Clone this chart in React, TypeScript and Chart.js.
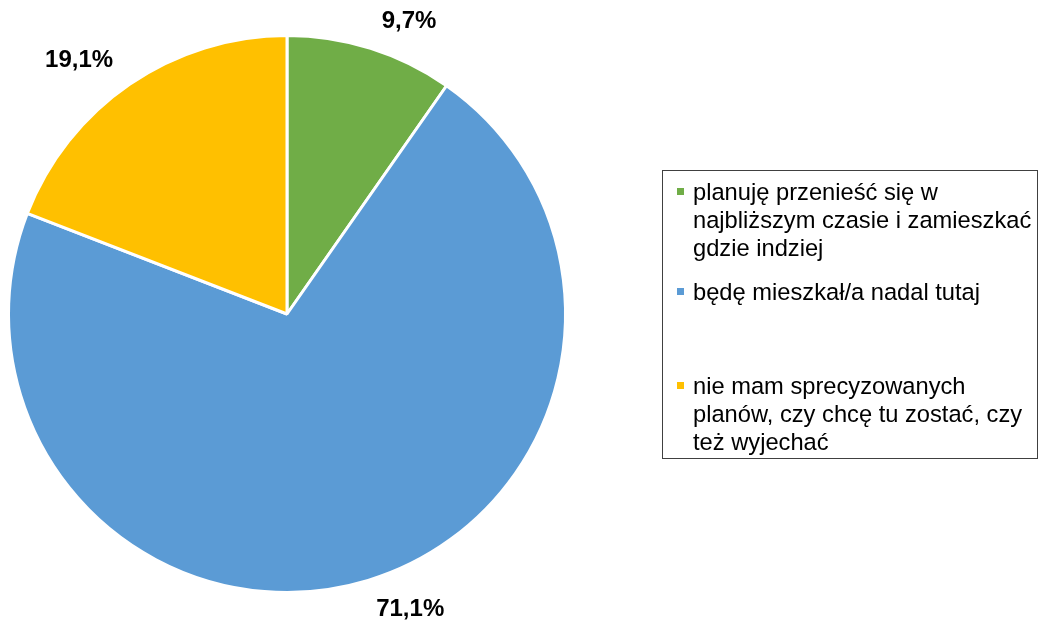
import React, { useEffect, useRef } from "react";
import { Chart, registerables } from "chart.js";

Chart.register(...registerables);

const categories: string[] = [
  "planuję przenieść się w najbliższym czasie i zamieszkać gdzie indziej",
  "będę mieszkał/a nadal tutaj",
  "nie mam sprecyzowanych planów, czy chcę tu zostać, czy też wyjechać",
];
const values: number[] = [9.7, 71.1, 19.1];
const valueLabels: string[] = ["9,7%", "71,1%", "19,1%"];
const colors: string[] = ["#70AD47", "#5B9BD5", "#FFC000"];

// label nudges (px) from the slice's mid-angle anchor point
const labelNudges: [number, number][] = [
  [27, 8],
  [31, -8],
  [-29, 6],
];
const legendGaps: number[] = [16, 66, 0];

const FONT = "'Liberation Sans', Arial, Helvetica, sans-serif";

const labelPlugin = {
  id: "outsideLabels",
  afterDatasetsDraw(chart: any) {
    const ctx = chart.ctx;
    const meta = chart.getDatasetMeta(0);
    ctx.save();
    ctx.font = `bold 24px ${FONT}`;
    ctx.fillStyle = "#000000";
    ctx.textAlign = "center";
    ctx.textBaseline = "middle";
    meta.data.forEach((arc: any, i: number) => {
      const p = arc.getProps(["x", "y", "startAngle", "endAngle", "outerRadius"], true);
      const mid = (p.startAngle + p.endAngle) / 2;
      const r = p.outerRadius + 38;
      const x = p.x + Math.cos(mid) * r + labelNudges[i][0];
      const y = p.y + Math.sin(mid) * r + labelNudges[i][1];
      ctx.fillText(valueLabels[i], x, y + 1);
    });
    ctx.restore();
  },
};

export default function App() {
  const ref = useRef<HTMLCanvasElement | null>(null);
  useEffect(() => {
    if (!ref.current) return;
    const chart = new Chart(ref.current, {
      type: "pie",
      data: {
        labels: categories,
        datasets: [
          {
            data: values,
            backgroundColor: colors,
            borderColor: "#ffffff",
            borderWidth: 3,
          },
        ],
      },
      options: {
        responsive: false,
        animation: false,
        layout: { padding: { left: 7, top: 34, right: 474, bottom: 29 } },
        plugins: {
          legend: { display: false },
          tooltip: { enabled: false },
        },
      },
      plugins: [labelPlugin],
    });
    return () => chart.destroy();
  }, []);

  return (
    <div style={{ position: "absolute", left: 0, top: 0, width: 1041, height: 623, background: "#fff" }}>
      <canvas ref={ref} width={1041} height={623} style={{ position: "absolute", left: 0, top: 0 }} />
      <div
        style={{
          position: "absolute",
          left: 662,
          top: 170,
          width: 376,
          height: 289,
          border: "1px solid #404040",
          boxSizing: "border-box",
          paddingTop: 7,
          fontFamily: FONT,
          fontSize: "23.7px",
          lineHeight: "28px",
          color: "#000",
        }}
      >
        {categories.map((c, i) => (
          <div key={i} style={{ position: "relative", paddingLeft: 30, width: 345, marginBottom: legendGaps[i] }}>
            <span
              style={{
                position: "absolute",
                left: 14,
                top: 10,
                width: 7,
                height: 7,
                background: colors[i],
              }}
            />
            {c}
          </div>
        ))}
      </div>
    </div>
  );
}
